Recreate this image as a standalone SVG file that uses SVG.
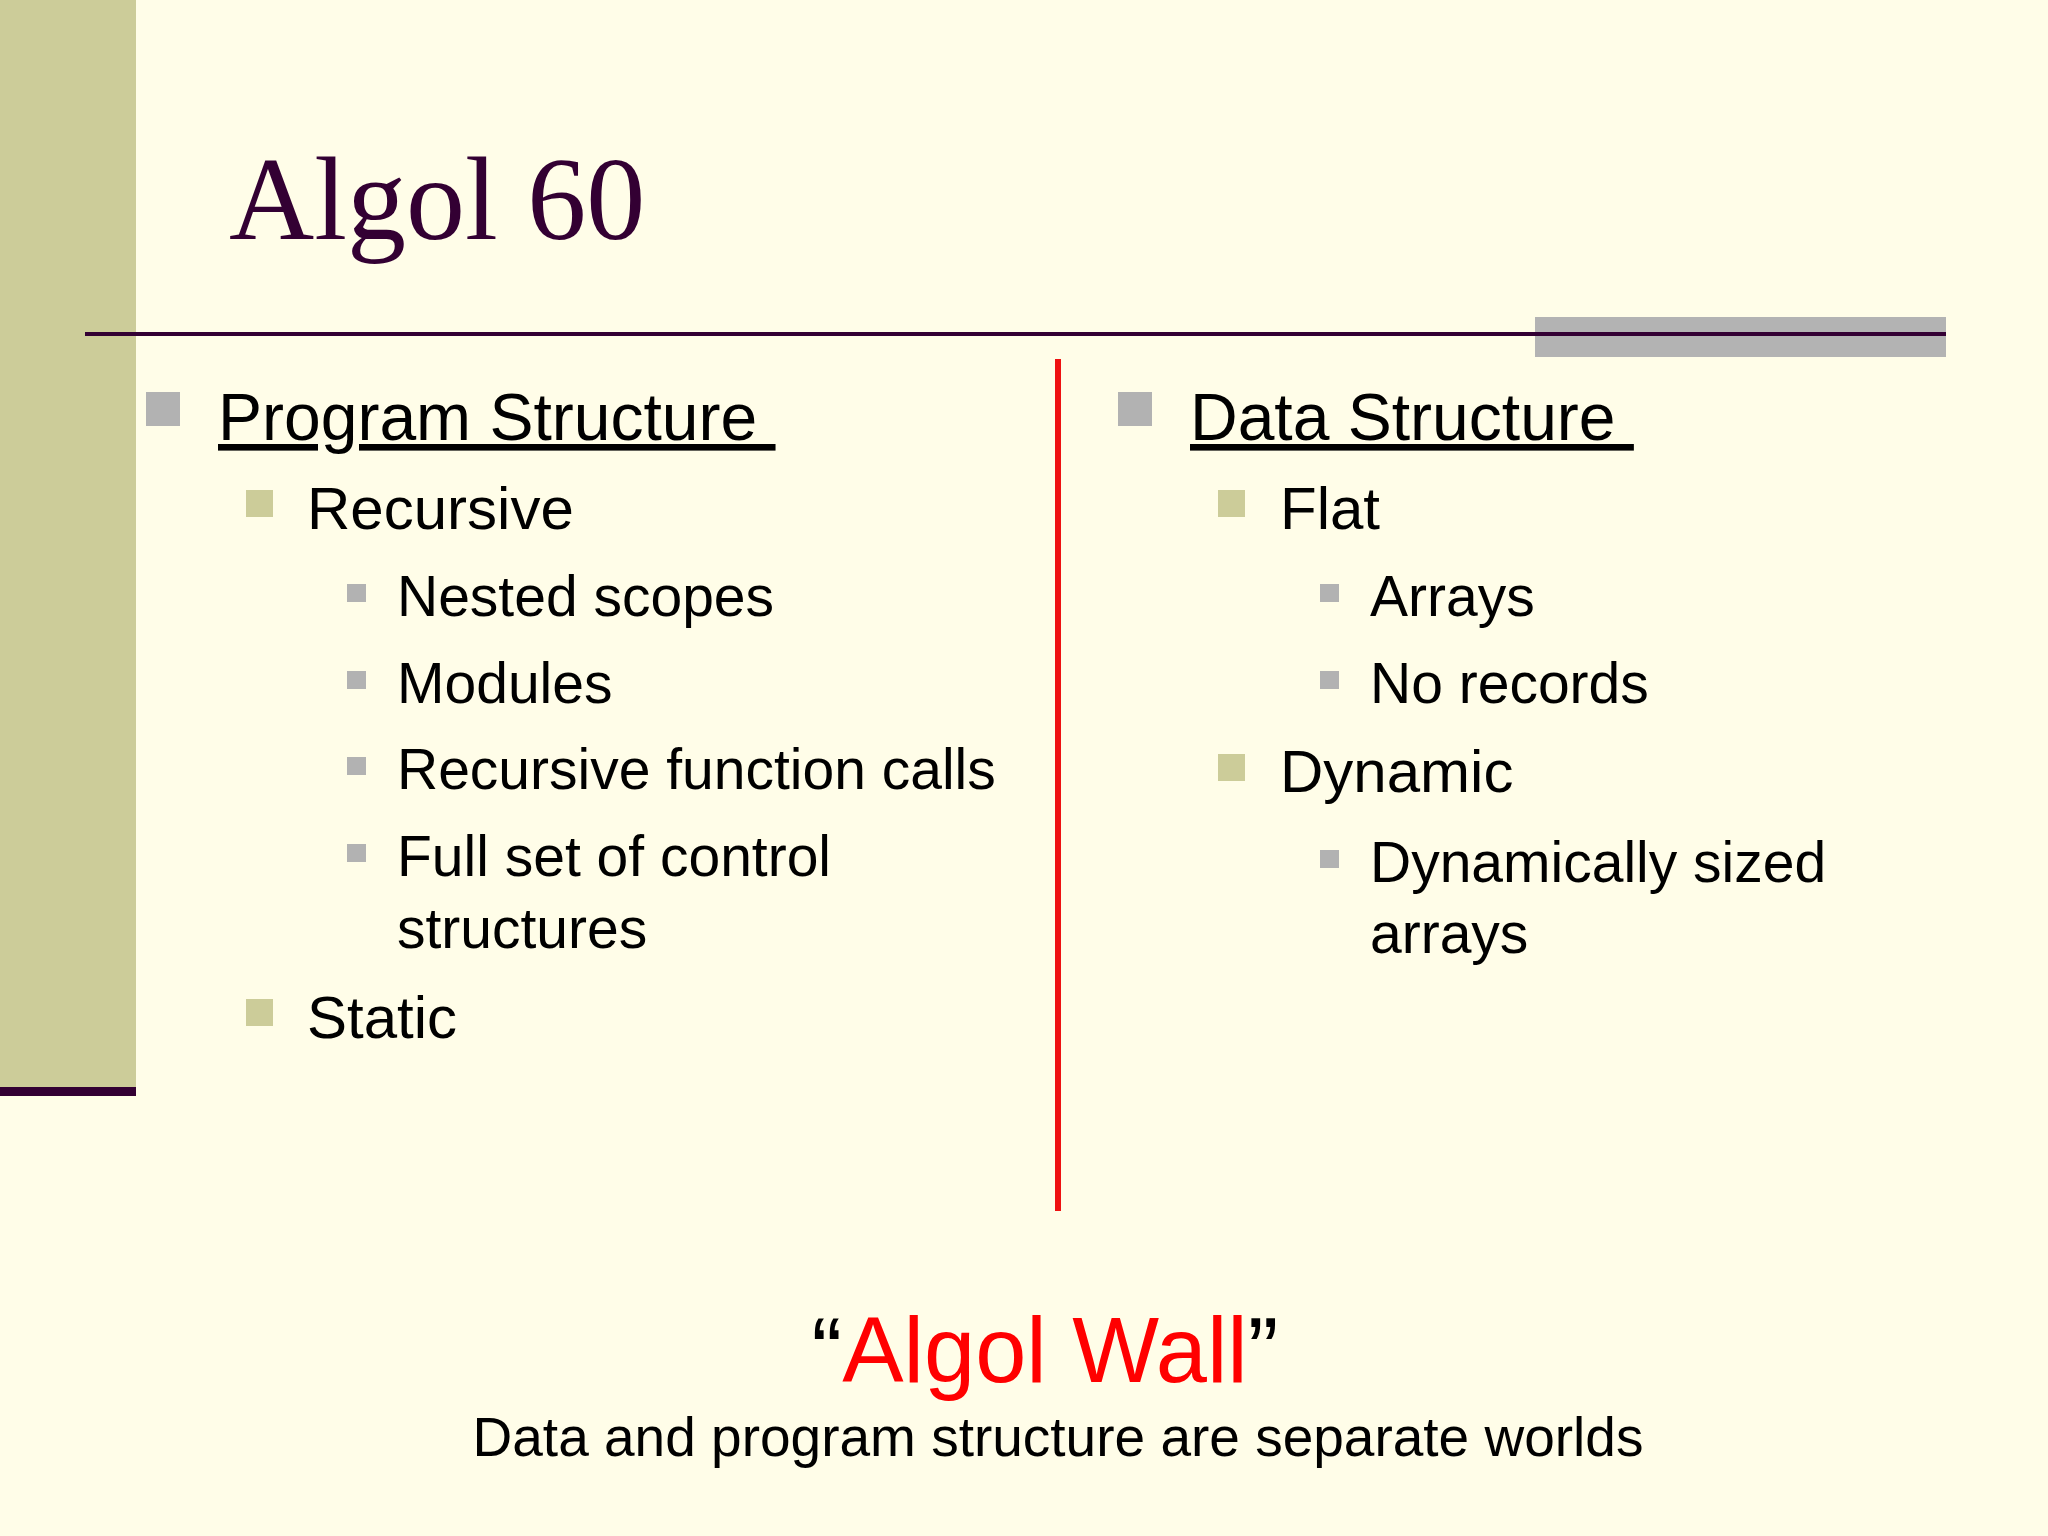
<svg xmlns="http://www.w3.org/2000/svg" width="2048" height="1536" viewBox="0 0 2048 1536">
<style>
.t{font-family:"Liberation Sans",Arial,sans-serif;fill:#000}
.l1{font-size:66px;text-decoration:underline}
.l2{font-size:60px}
.l3{font-size:57px}
.b1{fill:#b2b2b2}
.b2{fill:#cccc99}
.b3{fill:#b2b2b2}
</style>
<rect width="2048" height="1536" fill="#fffde8"/>
<rect x="0" y="0" width="136" height="1090" fill="#cccc99"/>
<rect x="0" y="1087" width="136" height="9" fill="#330033"/>
<rect x="1535" y="317" width="411" height="40" fill="#b3b3b3"/>
<rect x="85" y="332" width="1861" height="4" fill="#330033"/>
<text x="229" y="239" font-family="Liberation Serif,'Times New Roman',serif" font-size="118" fill="#330033">Algol 60</text>
<g id="connectors"><rect x="1055" y="359" width="6" height="852" fill="#ee1111"/></g>
<g id="left">
<rect class="b1" x="146" y="392" width="34" height="34"/>
<text class="t l1" x="218" y="440" xml:space="preserve">Program Structure </text>
<rect class="b2" x="246" y="490" width="27" height="27"/>
<text class="t l2" x="307" y="529">Recursive</text>
<rect class="b3" x="347" y="584" width="19" height="18"/>
<text class="t l3" x="397" y="616">Nested scopes</text>
<rect class="b3" x="347" y="671" width="19" height="18"/>
<text class="t l3" x="397" y="703">Modules</text>
<rect class="b3" x="347" y="757" width="19" height="18"/>
<text class="t l3" x="397" y="789">Recursive function calls</text>
<rect class="b3" x="347" y="844" width="19" height="18"/>
<text class="t l3" x="397" y="876">Full set of control</text>
<text class="t l3" x="397" y="948">structures</text>
<rect class="b2" x="246" y="999" width="27" height="27"/>
<text class="t l2" x="307" y="1038">Static</text>
</g>
<g id="right">
<rect class="b1" x="1118" y="392" width="34" height="34"/>
<text class="t l1" x="1190" y="440" xml:space="preserve">Data Structure </text>
<rect class="b2" x="1218" y="490" width="27" height="27"/>
<text class="t l2" x="1280" y="529">Flat</text>
<rect class="b3" x="1320" y="584" width="19" height="18"/>
<text class="t l3" x="1370" y="616">Arrays</text>
<rect class="b3" x="1320" y="671" width="19" height="18"/>
<text class="t l3" x="1370" y="703">No records</text>
<rect class="b2" x="1218" y="754" width="27" height="27"/>
<text class="t l2" x="1280" y="792">Dynamic</text>
<rect class="b3" x="1320" y="850" width="19" height="18"/>
<text class="t l3" x="1370" y="882">Dynamically sized</text>
<text class="t l3" x="1370" y="953">arrays</text>
</g>
<g id="footer">
<text class="t" x="1045" y="1382" font-size="92" text-anchor="middle">“<tspan fill="#ff0000">Algol Wall</tspan>”</text>
<text class="t" x="1058" y="1456" font-size="55" text-anchor="middle">Data and program structure are separate worlds</text>
</g>
</svg>
